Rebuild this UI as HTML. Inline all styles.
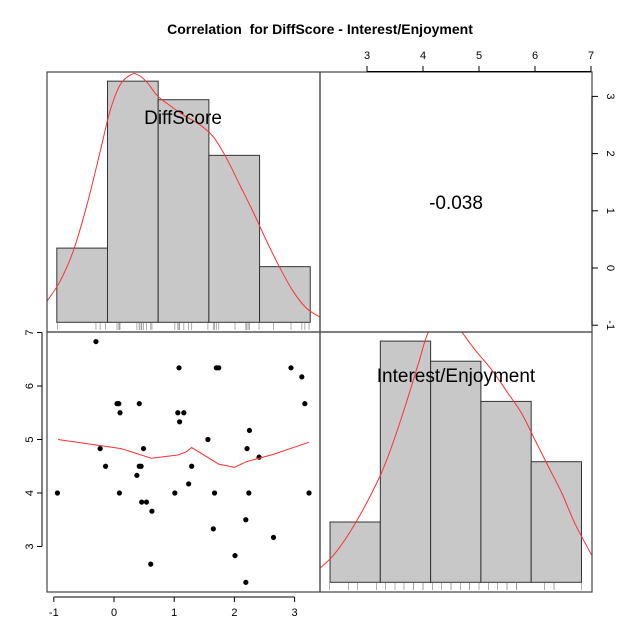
<!DOCTYPE html>
<html><head><meta charset="utf-8">
<style>
html,body{margin:0;padding:0;background:#fff;}
svg{display:block;font-family:"Liberation Sans",Arial,sans-serif;}
</style></head>
<body>
<svg id="chart" width="640" height="640" viewBox="0 0 640 640">
<text x="320" y="34" text-anchor="middle" font-size="14" font-weight="bold" style="white-space:pre">Correlation  for DiffScore - Interest/Enjoyment</text>
<g id="panels"></g>
</svg>
<script>
// ---- data ----
const diffScore = [-0.30,1.08,1.70,1.74,2.94,3.12,0.05,0.08,0.42,3.17,0.10,1.06,1.16,1.09,2.25,1.56,-0.23,0.49,2.21,2.41,-0.14,0.42,0.45,1.29,0.38,1.24,-0.94,0.09,1.01,1.67,2.24,3.24,0.46,0.54,0.63,2.19,1.65,2.65,2.01,0.61,2.19];
const interest  = [6.83,6.34,6.34,6.34,6.34,6.17,5.67,5.67,5.67,5.67,5.50,5.50,5.50,5.33,5.17,5.00,4.83,4.83,4.83,4.67,4.50,4.50,4.50,4.50,4.33,4.17,4.00,4.00,4.00,4.00,4.00,4.00,3.83,3.83,3.66,3.50,3.33,3.17,2.83,2.67,2.33];
const loessX = [-0.93,0.12,0.62,1.06,1.20,1.29,1.74,2.00,2.21,2.64,3.24];
const loessY = [5.00,4.83,4.65,4.71,4.77,4.85,4.54,4.48,4.59,4.72,4.95];
const diffBreaks = [-0.95,-0.108,0.734,1.576,2.418,3.26];
const diffCounts = [4,13,12,9,3];
const intBreaks = [2.34,3.238,4.136,5.034,5.932,6.83];
const intCounts = [3,12,11,9,6];
const diffDensX = [-1.11,-0.90,-0.68,-0.45,-0.23,-0.07,0.10,0.27,0.38,0.54,0.71,0.88,1.15,1.43,1.65,1.87,2.09,2.31,2.54,2.76,2.98,3.20,3.41];
const diffDensY = [1.15,2.19,3.81,6.32,9.20,11.35,12.79,13.33,13.37,12.97,12.25,11.8,11.18,10.64,10.0,8.84,7.40,5.96,4.35,2.91,1.65,0.75,0.30];
const intDensX = [2.16,2.43,2.79,3.20,3.44,3.68,3.92,4.10,4.40,4.69,4.93,5.23,5.52,5.76,6.00,6.24,6.48,6.71,7.01];
const intDensY = [0.70,1.44,2.93,5.09,6.75,8.74,10.90,12.47,13.6,12.47,11.56,10.56,9.40,8.41,7.08,5.75,4.43,2.94,1.36];
const xTicksDiff = [-1,0,1,2,3];
const yTicksInt = [3,4,5,6,7];
const topTicksInt = [3,4,5,6,7];
const rightTicksDiff = [-1,0,1,2,3];

// ---- scales ----
const NS='http://www.w3.org/2000/svg';
const xD = v => 114 + v*60.2;
const yI = v => 493 - (v-4)*53.5;
const xI = v => 367 + (v-3)*56;
const yDr = v => 268 - v*57.2;
const hTL = c => 322.3 - c*18.55;
const hBR = c => 582.3 - c*20.1;
const g = document.getElementById('panels');
function mk(tag, attrs, parent){const e=document.createElementNS(NS,tag);for(const k in attrs)e.setAttribute(k,attrs[k]);(parent||g).appendChild(e);return e;}
function smooth(pts){
  let d='M'+pts[0][0]+','+pts[0][1];
  for(let i=0;i<pts.length-1;i++){
    const p0=pts[Math.max(i-1,0)],p1=pts[i],p2=pts[i+1],p3=pts[Math.min(i+2,pts.length-1)];
    const c1x=p1[0]+(p2[0]-p0[0])/6,c1y=p1[1]+(p2[1]-p0[1])/6;
    const c2x=p2[0]-(p3[0]-p1[0])/6,c2y=p2[1]-(p3[1]-p1[1])/6;
    d+=` C${c1x},${c1y} ${c2x},${c2y} ${p2[0]},${p2[1]}`;
  }
  return d;
}

const defs = mk('defs',{});
const c1 = mk('clipPath',{id:'clipTL'},defs); mk('rect',{x:47,y:72,width:273,height:260},c1);
const c2 = mk('clipPath',{id:'clipBR'},defs); mk('rect',{x:320,y:332,width:272,height:260},c2);
const c3 = mk('clipPath',{id:'clipBL'},defs); mk('rect',{x:47,y:332,width:273,height:260},c3);

// top-left histogram
const gTL = mk('g',{'clip-path':'url(#clipTL)'});


diffCounts.forEach((c,i)=>{
  const r = mk('rect',{x:xD(diffBreaks[i]),y:hTL(c),width:xD(diffBreaks[i+1])-xD(diffBreaks[i]),height:hTL(0)-hTL(c),fill:'#c8c8c8',stroke:'#333','stroke-width':1},gTL);
  
  
});
diffScore.forEach(v=>{
  const l = mk('line',{x1:xD(v),x2:xD(v),y1:323,y2:330,stroke:'#999','stroke-width':0.8},gTL);
  
  
});
const p1 = mk('path',{d:smooth(diffDensX.map((x,i)=>[xD(x),hTL(diffDensY[i])])),fill:'none',stroke:'#ff3030','stroke-width':1},gTL);


const t1 = mk('text',{x:183,y:124,'text-anchor':'middle','font-size':19},gTL); t1.textContent='DiffScore';



// bottom-right histogram
const gBR = mk('g',{'clip-path':'url(#clipBR)'});


intCounts.forEach((c,i)=>{
  const r = mk('rect',{x:xI(intBreaks[i]),y:hBR(c),width:xI(intBreaks[i+1])-xI(intBreaks[i]),height:hBR(0)-hBR(c),fill:'#c8c8c8',stroke:'#333','stroke-width':1},gBR);
  
  
});
interest.forEach(v=>{
  const l = mk('line',{x1:xI(v),x2:xI(v),y1:583,y2:590,stroke:'#999','stroke-width':0.8},gBR);
  
  
});
const p2 = mk('path',{d:smooth(intDensX.map((x,i)=>[xI(x),hBR(intDensY[i])])),fill:'none',stroke:'#ff3030','stroke-width':1},gBR);


const t2 = mk('text',{x:456,y:382,'text-anchor':'middle','font-size':19},gBR); t2.textContent='Interest/Enjoyment';



// scatter
const gBL = mk('g',{'clip-path':'url(#clipBL)'});


diffScore.forEach((v,i)=>{
  const c = mk('circle',{cx:xD(v),cy:yI(interest[i]),r:2.6,fill:'#000'},gBL);
  
  
});
const p3 = mk('polyline',{points:loessX.map((x,i)=>xD(x)+','+yI(loessY[i])).join(' '),fill:'none',stroke:'#ff3030','stroke-width':1},gBL);



const t3 = mk('text',{x:456,y:209,'text-anchor':'middle','font-size':19}); t3.textContent='-0.038';



[[47,72,273,260],[320,72,272,260],[47,332,273,260],[320,332,272,260]].forEach((f,i)=>{
  const r = mk('rect',{x:f[0],y:f[1],width:f[2],height:f[3],fill:'none',stroke:'#444','stroke-width':1.2});
  
  
});

const ax = mk('g',{stroke:'#000','stroke-width':1,'font-size':11});


mk('line',{x1:xD(-1),x2:xD(3),y1:597,y2:597},ax);
xTicksDiff.forEach(v=>{
  mk('line',{x1:xD(v),x2:xD(v),y1:597,y2:602},ax);
  const t=mk('text',{x:xD(v),y:616,'text-anchor':'middle',stroke:'none',fill:'#000'},ax); t.textContent=v;
  
  
});
mk('line',{x1:42,x2:42,y1:yI(3),y2:yI(7)},ax);
yTicksInt.forEach(v=>{
  mk('line',{x1:37,x2:42,y1:yI(v),y2:yI(v)},ax);
  const t=mk('text',{x:0,y:0,'text-anchor':'middle',stroke:'none',fill:'#000',transform:`translate(33,${yI(v)}) rotate(-90)`},ax); t.textContent=v;
  
  
});
mk('line',{x1:xI(3),x2:xI(7),y1:71.5,y2:71.5},ax);
topTicksInt.forEach(v=>{
  mk('line',{x1:xI(v),x2:xI(v),y1:66,y2:71.5},ax);
  const t=mk('text',{x:xI(v),y:59,'text-anchor':'middle',stroke:'none',fill:'#000'},ax); t.textContent=v;
  
  
});
mk('line',{x1:592,x2:592,y1:yDr(-1),y2:yDr(3)},ax);
rightTicksDiff.forEach(v=>{
  mk('line',{x1:592,x2:598,y1:yDr(v),y2:yDr(v)},ax);
  const t=mk('text',{x:0,y:0,'text-anchor':'middle',stroke:'none',fill:'#000',transform:`translate(607,${yDr(v)}) rotate(90)`},ax); t.textContent=v;
  
  
});
</script>
</body></html>
